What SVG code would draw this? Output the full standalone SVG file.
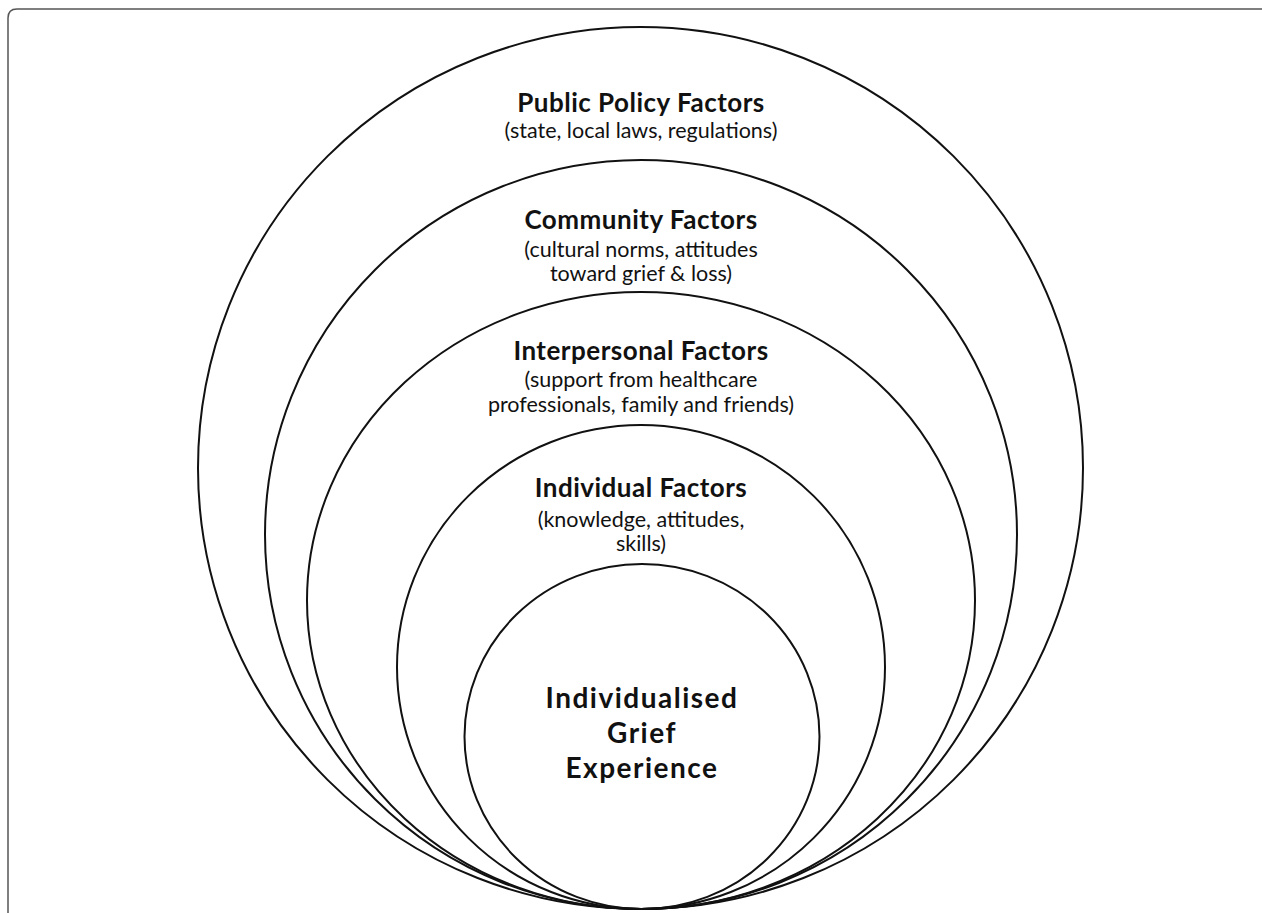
<svg xmlns="http://www.w3.org/2000/svg" width="1262" height="913" viewBox="0 0 1262 913">
<style>
.ring{fill:none;stroke:#111;stroke-width:2}
.title{font-family:Lato,"Open Sans",sans-serif;font-weight:bold;font-size:26px;letter-spacing:0.5px;fill:#111;text-anchor:middle}
.sub{font-family:Lato,"Open Sans",sans-serif;font-size:21.5px;fill:#111;text-anchor:middle}
.core{font-family:Lato,"Open Sans",sans-serif;font-weight:bold;font-size:28px;fill:#111;text-anchor:middle;letter-spacing:1.5px}
</style>
<rect width="1262" height="913" fill="#fff"/>
<path d="M8,913 L8,18 Q8,9 17,9 L1262,9" fill="none" stroke="#555" stroke-width="1.5"/>
<g id="public-policy">
<ellipse class="ring" cx="640.5" cy="468" rx="442.5" ry="441"/>
<text class="title" x="641" y="112">Public Policy Factors</text>
<text class="sub" x="641" y="138">(state, local laws, regulations)</text>
</g>
<g id="community">
<ellipse class="ring" cx="641" cy="534.5" rx="376" ry="374.5"/>
<text class="title" x="641" y="229">Community Factors</text>
<text class="sub" x="641" y="257">(cultural norms, attitudes</text>
<text class="sub" x="641" y="281">toward grief &amp; loss)</text>
</g>
<g id="interpersonal">
<ellipse class="ring" cx="641" cy="600.5" rx="334" ry="308.5"/>
<text class="title" x="641" y="360">Interpersonal Factors</text>
<text class="sub" x="641" y="387">(support from healthcare</text>
<text class="sub" x="641" y="412">professionals, family and friends)</text>
</g>
<g id="individual">
<ellipse class="ring" cx="641" cy="667" rx="244" ry="242"/>
<text class="title" x="641" y="497">Individual Factors</text>
<text class="sub" x="641" y="527">(knowledge, attitudes,</text>
<text class="sub" x="641" y="551">skills)</text>
</g>
<g id="core">
<ellipse class="ring" cx="642" cy="736.5" rx="177.5" ry="172.5"/>
<text class="core" x="642" y="708">Individualised</text>
<text class="core" x="642" y="743">Grief</text>
<text class="core" x="642" y="778">Experience</text>
</g>
<g id="connectors"></g>
</svg>
